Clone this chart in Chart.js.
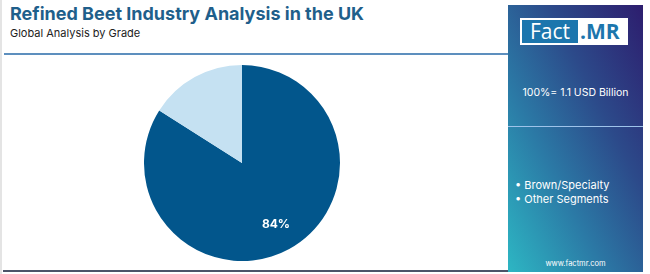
<!DOCTYPE html>
<html><head><meta charset="utf-8">
<script src="https://cdn.jsdelivr.net/npm/chart.js@4.4.1/dist/chart.umd.min.js"></script>
<style>
html,body{margin:0;padding:0;background:#fff;}
body{width:650px;height:274px;position:relative;overflow:hidden;font-family:Inter,"Open Sans",sans-serif;}
#frame{position:absolute;left:0;top:0;width:650px;height:274px;box-sizing:border-box;border-left:2px solid #e4e4e4;}
#title{position:absolute;left:10px;top:3px;font-size:18px;font-weight:700;color:#1f5f8b;letter-spacing:0px;white-space:nowrap;}
#sub{position:absolute;left:10px;top:26px;font-size:11px;color:#222;white-space:nowrap;}
#hline{position:absolute;left:4px;top:53px;width:506px;height:2px;background:#5d8fbe;}
#bline{position:absolute;left:3px;top:270px;width:507px;height:2px;background:#4b5468;}
#panel{position:absolute;left:508px;top:5px;width:135px;height:267px;background:linear-gradient(to top right,#2db6c3 0%,#2b7aa6 35%,#2c4a8a 65%,#2d1d6e 100%);}
#divider{position:absolute;left:0;top:121px;width:135px;height:1px;background:#9ec3ea;}
#logo{position:absolute;left:12px;top:13px;width:108px;height:27px;background:#fff;}
#logo .f{position:absolute;left:2px;top:2px;width:56px;height:23px;background:#1c76ad;color:#fff;font-size:21px;line-height:23px;text-align:center;font-family:"Open Sans",sans-serif;}
#logo .m{position:absolute;left:60px;top:2px;width:48px;height:23px;color:#1c76ad;font-size:21px;line-height:23px;font-weight:700;font-family:"Open Sans",sans-serif;}
#total{position:absolute;left:0;top:81px;width:135px;text-align:center;color:#fff;font-size:10.5px;}
#legend{position:absolute;left:7px;top:173px;color:#fff;font-size:11px;line-height:14px;}
#web{position:absolute;left:0;top:254px;width:135px;text-align:center;color:#fff;font-size:7.5px;}
#wrap{position:absolute;left:144px;top:65px;width:196px;height:196px;}
</style></head>
<body>
<div id="frame"></div>
<div id="title">Refined Beet Industry Analysis in the UK</div>
<div id="sub">Global Analysis by Grade</div>
<div id="hline"></div>
<div id="bline"></div>
<div id="panel">
  <div id="logo"><div class="f">Fact</div><div class="m">.MR</div></div>
  <div id="total">100%= 1.1 USD Billion</div>
  <div id="divider"></div>
  <div id="legend"></div>
  <div id="web">www.factmr.com</div>
</div>
<div id="wrap"><canvas id="c" width="196" height="196"></canvas></div>
<script>
const categories = ["Brown/Specialty", "Other Segments"];
const shares = [84, 16];
const sliceColors = ["#02568c", "#c5e1f2"];
const shownLabels = [true, false];

document.getElementById('legend').innerHTML = categories.map(c => '\u2022 ' + c).join('<br>');

const labelPlugin = {
  id: 'sliceLabels',
  afterDatasetsDraw(chart) {
    const ctx = chart.ctx;
    const meta = chart.getDatasetMeta(0);
    meta.data.forEach((arc, i) => {
      if (!shownLabels[i]) return;
      const p = arc.getProps(['x','y','startAngle','endAngle','outerRadius'], true);
      const mid = (p.startAngle + p.endAngle) / 2;
      const r = p.outerRadius * 0.72;
      ctx.save();
      ctx.fillStyle = '#fff';
      ctx.font = 'bold 12px Inter, "Open Sans", sans-serif';
      ctx.textAlign = 'center';
      ctx.textBaseline = 'middle';
      ctx.fillText(shares[i] + '%', p.x + Math.cos(mid) * r, p.y + Math.sin(mid) * r);
      ctx.restore();
    });
  }
};

new Chart(document.getElementById('c'), {
  type: 'pie',
  data: { labels: categories, datasets: [{ data: shares, backgroundColor: sliceColors, borderWidth: 0 }] },
  options: {
    responsive: false, animation: false,
    layout: { padding: 0 },
    plugins: { legend: { display: false }, tooltip: { enabled: false } }
  },
  plugins: [labelPlugin]
});
</script>
</body></html>
